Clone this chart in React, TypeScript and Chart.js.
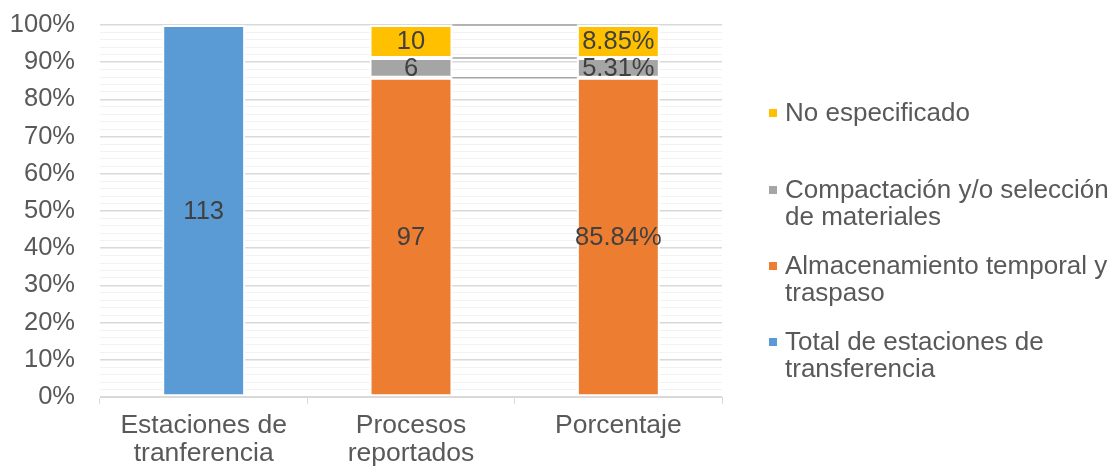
import React, { useEffect, useRef } from "react";
import { Chart, registerables } from "chart.js";

Chart.register(...registerables);

const categories: (string | string[])[] = [["Estaciones de", "tranferencia"], ["Procesos", "reportados"], "Porcentaje"];
const valueFormats = ["count", "count", "percent"];

const totalEstaciones = [113, null, null];
const almacenamiento = [null, 97, 85.84];
const compactacion = [null, 6, 5.31];
const noEspecificado = [null, 10, 8.85];

const seriesNames = [
  "Total de estaciones de transferencia",
  "Almacenamiento temporal y traspaso",
  "Compactación y/o selección de materiales",
  "No especificado",
];
const seriesColors = ["#5b9bd5", "#ed7d31", "#a5a5a5", "#ffc000"];

const legendItems = [
  { color: "#ffc000", lines: ["No especificado"], top: 99 },
  { color: "#a5a5a5", lines: ["Compactación y/o selección", "de materiales"], top: 176 },
  { color: "#ed7d31", lines: ["Almacenamiento temporal y", "traspaso"], top: 252 },
  { color: "#5b9bd5", lines: ["Total de estaciones de", "transferencia"], top: 328 },
];

const FONT = "'Liberation Sans', Arial, sans-serif";

export default function App() {
  const ref = useRef<HTMLCanvasElement | null>(null);

  useEffect(() => {
    document.body.style.margin = "0";
    const raw = [totalEstaciones, almacenamiento, compactacion, noEspecificado];
    const totals = categories.map((_, i) =>
      raw.reduce((s, arr) => s + (arr[i] == null ? 0 : (arr[i] as number)), 0)
    );
    const datasets = raw.map((arr, d) => ({
      label: seriesNames[d],
      data: arr.map((v, i) => (v == null ? null : ((v as number) / totals[i]) * 100)),
      rawValues: arr,
      backgroundColor: seriesColors[d],
      borderColor: "#ffffff",
      borderWidth: 2,
      borderSkipped: false as const,
      stack: "s",
      categoryPercentage: 1,
      barPercentage: 0.4,
    }));

    const seriesLines = {
      id: "seriesLines",
      afterDatasetsDraw(chart: any) {
        const ctx = chart.ctx;
        ctx.save();
        ctx.strokeStyle = "#a5a5a5";
        ctx.lineWidth = 1.5;
        chart.data.datasets.forEach((ds: any, d: number) => {
          const meta = chart.getDatasetMeta(d);
          for (let i = 0; i < ds.data.length - 1; i++) {
            if (ds.data[i] == null || ds.data[i + 1] == null) continue;
            const a = meta.data[i] as any;
            const b = meta.data[i + 1] as any;
            ctx.beginPath();
            ctx.moveTo(a.x + a.width / 2, a.y);
            ctx.lineTo(b.x - b.width / 2, b.y);
            ctx.stroke();
          }
        });
        ctx.restore();
      },
    };

    const dataLabels = {
      id: "dataLabels",
      afterDatasetsDraw(chart: any) {
        const ctx = chart.ctx;
        ctx.save();
        ctx.font = `25.5px ${FONT}`;
        ctx.fillStyle = "#404040";
        ctx.textAlign = "center";
        ctx.textBaseline = "middle";
        chart.data.datasets.forEach((ds: any, d: number) => {
          const meta = chart.getDatasetMeta(d);
          ds.rawValues.forEach((v: number | null, i: number) => {
            if (v == null) return;
            const el = meta.data[i] as any;
            const text = valueFormats[i] === "percent" ? v.toFixed(2) + "%" : String(v);
            ctx.fillText(text, el.x, (el.y + el.base) / 2 + 1);
          });
        });
        ctx.restore();
      },
    };

    const chart = new Chart(ref.current as HTMLCanvasElement, {
      type: "bar",
      data: { labels: categories, datasets: datasets as any },
      options: {
        animation: false,
        responsive: false,
        devicePixelRatio: 1,
        layout: { padding: { top: 25, right: 396, left: 0, bottom: 0 } },
        plugins: { legend: { display: false }, tooltip: { enabled: false } },
        scales: {
          x: {
            stacked: true,
            offset: true,
            afterFit: (s: any) => {
              s.height = 71;
            },
            grid: {
              offset: true,
              drawOnChartArea: false,
              drawTicks: true,
              tickLength: 7,
              color: "#d9d9d9",
            },
            border: { color: "#d9d9d9", width: 1 },
            ticks: {
              color: "#595959",
              padding: 8,
              maxRotation: 0,
              font: { family: FONT, size: 26.5, lineHeight: "28px" as any },
            },
          },
          y: {
            stacked: true,
            min: 0,
            max: 100,
            afterFit: (s: any) => {
              s.width = 100;
              s.paddingTop = 0;
              s.paddingBottom = 0;
            },
            border: { display: false },
            grid: {
              drawTicks: false,
              color: (c: any) => (c.tick && c.tick.value % 10 === 0 ? "#d9d9d9" : "#f2f2f2"),
              lineWidth: (c: any) => (c.tick && c.tick.value % 10 === 0 ? 1.5 : 1),
            },
            ticks: {
              stepSize: 2,
              autoSkip: false,
              padding: 25,
              color: "#595959",
              font: { family: FONT, size: 25.5 },
              callback: (v: any) => (Number(v) % 10 === 0 ? v + "%" : ""),
            },
          },
        },
      },
      plugins: [seriesLines, dataLabels],
    });
    return () => chart.destroy();
  }, []);

  return (
    <div style={{ position: "absolute", left: 0, top: 0, width: 1118, height: 468, background: "#fff" }}>
      <canvas ref={ref} width={1118} height={468} style={{ width: 1118, height: 468, display: "block" }} />
      {legendItems.map((it, k) => (
        <div
          key={k}
          style={{
            position: "absolute",
            left: 785,
            top: it.top,
            fontFamily: FONT,
            fontSize: 26,
            lineHeight: "27px",
            color: "#595959",
            whiteSpace: "nowrap",
          }}
        >
          <span
            style={{
              position: "absolute",
              left: -16,
              top: 10,
              width: 8,
              height: 8,
              background: it.color,
            }}
          />
          {it.lines.map((l, j) => (
            <div key={j}>{l}</div>
          ))}
        </div>
      ))}
    </div>
  );
}
